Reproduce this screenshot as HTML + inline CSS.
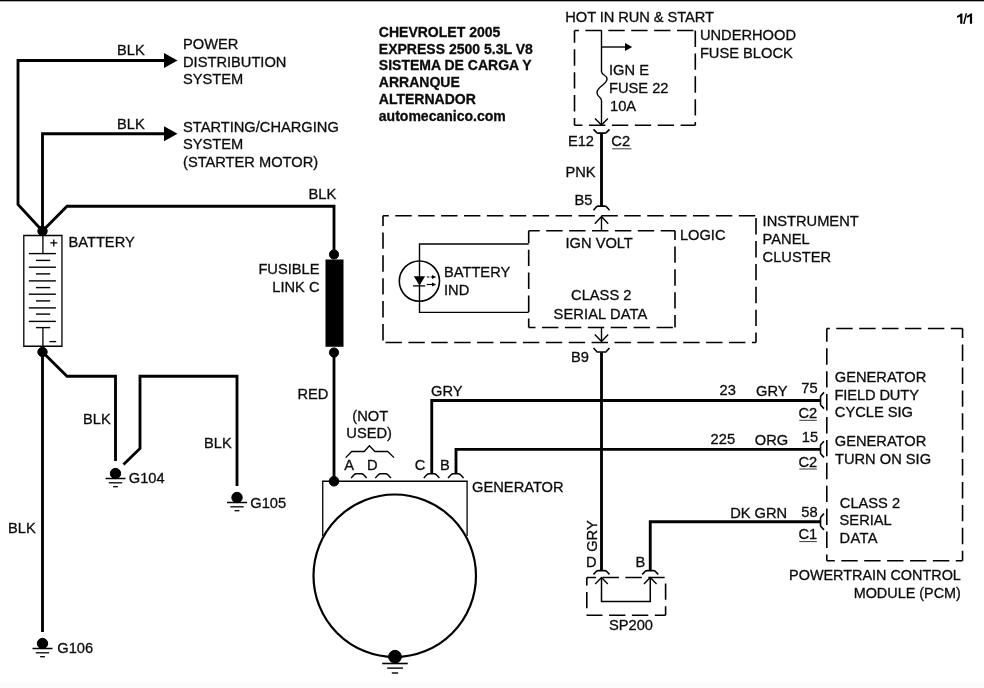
<!DOCTYPE html>
<html><head><meta charset="utf-8"><title>Wiring Diagram</title>
<style>
html,body{margin:0;padding:0;background:#fff;}
body{width:984px;height:688px;overflow:hidden;font-family:"Liberation Sans",sans-serif;}
svg{display:block;position:absolute;left:0;top:0;filter:blur(0.45px);}
svg text{font-family:"Liberation Sans",sans-serif;font-size:14.67px;fill:#0c0c0c;stroke:#0c0c0c;stroke-width:0.3px;}
svg path{fill:none;stroke:#000;stroke-linejoin:miter;stroke-linecap:butt;}
svg circle{stroke:#000;}
</style></head><body>
<svg width="984" height="688" viewBox="0 0 984 688">
<rect x="0" y="0" width="984" height="1.3" fill="#000" stroke="none"/>
<rect x="0" y="683" width="984" height="5" fill="#fbfbfb" stroke="none"/>
<path d="M165,60.5 H18 V204.5 L42.5,231" stroke-width="2.85"/>
<polygon points="164,53 177.5,60.5 164,68" fill="#000" stroke="none"/>
<path d="M165,133.7 H42.5 V231" stroke-width="2.85"/>
<polygon points="164,126.2 177.5,133.7 164,141.2" fill="#000" stroke="none"/>
<path d="M42.5,231 L67,206.2 H334 V254" stroke-width="2.85"/>
<circle cx="42.5" cy="231" r="4.7" fill="#000" stroke="none"/>
<path d="M23.8,235.5 H61.95 V346.25 H23.8 Z" stroke-width="1.3"/>
<path d="M42.9,235.5 V253.6" stroke-width="1.3"/>
<path d="M28.8,253.6 H55.9" stroke-width="1.4"/>
<path d="M28.8,267.2 H55.9" stroke-width="1.4"/>
<path d="M28.8,280.9 H55.9" stroke-width="1.4"/>
<path d="M28.8,294.2 H55.9" stroke-width="1.4"/>
<path d="M28.8,307.9 H55.9" stroke-width="1.4"/>
<path d="M28.8,321.4 H55.9" stroke-width="1.4"/>
<path d="M36,260.4 H50.2" stroke-width="1.4"/>
<path d="M36,273.9 H50.2" stroke-width="1.4"/>
<path d="M36,287.6 H50.2" stroke-width="1.4"/>
<path d="M36,300.9 H50.2" stroke-width="1.4"/>
<path d="M36,314.1 H50.2" stroke-width="1.4"/>
<path d="M36,327.6 H50.2" stroke-width="1.4"/>
<path d="M42.9,327.6 V346.25" stroke-width="1.3"/>
<path d="M50.3,242.9 H57.3 M53.8,239.4 V246.4" stroke-width="1.3"/>
<path d="M49.4,341.6 H56.2" stroke-width="1.3"/>
<circle cx="42.5" cy="352" r="4.7" fill="#000" stroke="none"/>
<path d="M42.5,352 V632" stroke-width="2.85"/>
<path d="M42.5,352 L67,376.25 H115.5 V461" stroke-width="2.85"/>
<path d="M237,486 V376.25 H140 V448.5 L123.5,464.5" stroke-width="2.85"/>
<circle cx="115.5" cy="473.5" r="5.2" fill="#000" stroke="none"/>
<path d="M105.50,478.5 H125.50" stroke-width="1.5"/>
<path d="M108.80,482.8 H122.20" stroke-width="1.3"/>
<path d="M113.10,486.7 H117.90" stroke-width="1.3"/>
<circle cx="237" cy="497.5" r="5.2" fill="#000" stroke="none"/>
<path d="M227.00,502.5 H247.00" stroke-width="1.5"/>
<path d="M230.30,506.8 H243.70" stroke-width="1.3"/>
<path d="M234.60,510.7 H239.40" stroke-width="1.3"/>
<circle cx="42.5" cy="643.5" r="5.2" fill="#000" stroke="none"/>
<path d="M32.50,648.5 H52.50" stroke-width="1.5"/>
<path d="M35.80,652.8 H49.20" stroke-width="1.3"/>
<path d="M40.10,656.7 H44.90" stroke-width="1.3"/>
<rect x="325.5" y="259.5" width="18" height="87.25" fill="#000" stroke="none"/>
<circle cx="334" cy="254.5" r="4.6" fill="#000" stroke="none"/>
<circle cx="334" cy="352.5" r="4.6" fill="#000" stroke="none"/>
<path d="M334,352.5 V481" stroke-width="2.85"/>
<path d="M322.75,536 V481.25 H467.1 V536" stroke-width="1.3"/>
<circle cx="394.75" cy="575.75" r="81.25" stroke-width="2.2" fill="none"/>
<circle cx="334" cy="481.25" r="4.8" fill="#000" stroke="none"/>
<circle cx="395" cy="656.75" r="6.4" fill="#000" stroke="none"/>
<path d="M382.2,663.5 H407.8" stroke-width="1.6"/>
<path d="M387.2,668.1 H403" stroke-width="1.4"/>
<path d="M391.8,673 H398.2" stroke-width="1.4"/>
<path d="M351.09999999999997,478 L354.6,474.30 Q355.2,473.8 356.3,473.8 H361.49999999999994 Q362.59999999999997,473.8 363.19999999999993,474.30 L366.7,478" stroke-width="1.5" stroke-linejoin="round"/>
<path d="M375.3,478 L378.80000000000007,474.30 Q379.40000000000003,473.8 380.50000000000006,473.8 H385.7 Q386.8,473.8 387.4,474.30 L390.90000000000003,478" stroke-width="1.5" stroke-linejoin="round"/>
<path d="M423.8,478 L427.30000000000007,474.30 Q427.90000000000003,473.8 429.00000000000006,473.8 H434.2 Q435.3,473.8 435.9,474.30 L439.40000000000003,478" stroke-width="1.5" stroke-linejoin="round"/>
<path d="M448.0,478 L451.50000000000006,474.30 Q452.1,473.8 453.20000000000005,473.8 H458.4 Q459.5,473.8 460.09999999999997,474.30 L463.6,478" stroke-width="1.5" stroke-linejoin="round"/>
<path d="M345.7,457.6 L351.7,451.5 H364.2 L369.4,445.8 L374.9,451.5 H387.7 L394,457.6" stroke-width="1.3"/>
<path d="M431.75,473.6 V400.5 H820.6" stroke-width="2.85"/>
<path d="M456,473.6 V449.3 H820.6" stroke-width="2.85"/>
<path d="M601.5,352.3 V570.5" stroke-width="2.85"/>
<path d="M650.25,570.5 V521.75 H820.6" stroke-width="2.85"/>
<path d="M601.5,133.4 V206.2" stroke-width="2.85"/>
<path d="M574.5,30.5 L695.3,30.5" stroke-width="1.6" stroke-dasharray="16.4 6.5" stroke-dashoffset="12.00"/>
<path d="M695.3,30.5 L695.3,125.2" stroke-width="1.6" stroke-dasharray="16.4 6.5" stroke-dashoffset="0.00"/>
<path d="M574.5,125.2 L695.3,125.2" stroke-width="1.6" stroke-dasharray="16.4 6.5" stroke-dashoffset="8.40"/>
<path d="M574.5,30.5 L574.5,125.2" stroke-width="1.6" stroke-dasharray="16.4 6.5" stroke-dashoffset="4.10"/>
<path d="M601.5,30.5 V71.5 C601.5,75.5 607,74.5 607,79 C607,84.5 597,86.5 597,92.5 C597,97.5 601.5,96.5 601.5,100.5 V125" stroke-width="1.4"/>
<path d="M601.5,47 H626" stroke-width="1.4"/>
<polygon points="625,43 632.2,47 625,51" fill="#000" stroke="none"/>
<path d="M595,118.4 L601.5,124.9 L607.9,118.4" stroke-width="1.4"/>
<path d="M593.5,129.4 L596.7,132.66 Q597.3000000000001,133.1 598.4,133.1 H604.6 Q605.6999999999999,133.1 606.3,132.66 L609.5,129.4" stroke-width="1.6" stroke-linejoin="round"/>
<path d="M383,215.75 L756,215.75" stroke-width="1.6" stroke-dasharray="16.4 6.5" stroke-dashoffset="10.60"/>
<path d="M756,215.75 L756,342.5" stroke-width="1.6" stroke-dasharray="16.4 6.5" stroke-dashoffset="20.55"/>
<path d="M383,342.5 L756,342.5" stroke-width="1.6" stroke-dasharray="16.4 6.5" stroke-dashoffset="20.40"/>
<path d="M383,215.75 L383,342.5" stroke-width="1.6" stroke-dasharray="16.4 6.5" stroke-dashoffset="6.25"/>
<path d="M528.7,230.75 L675,230.75" stroke-width="1.6" stroke-dasharray="16.4 6.5" stroke-dashoffset="5.40"/>
<path d="M675,230.75 L675,327.5" stroke-width="1.6" stroke-dasharray="16.4 6.5" stroke-dashoffset="7.25"/>
<path d="M528.7,327.5 L675,327.5" stroke-width="1.6" stroke-dasharray="16.4 6.5" stroke-dashoffset="9.60"/>
<path d="M528.7,230.75 L528.7,327.5" stroke-width="1.6" stroke-dasharray="16.4 6.5" stroke-dashoffset="3.95"/>
<path d="M593.5,210.2 L596.7,206.59 Q597.3000000000001,206.1 598.4,206.1 H604.6 Q605.6999999999999,206.1 606.3,206.59 L609.5,210.2" stroke-width="1.6" stroke-linejoin="round"/>
<path d="M601.5,230.5 V216.6 M594.8,223.8 L601.5,216.6 L608.2,223.8" stroke-width="1.4"/>
<path d="M601.5,327.5 V341.6 M594.8,334.6 L601.5,341.6 L608.2,334.6" stroke-width="1.4"/>
<path d="M593.5,348 L596.7,351.52 Q597.3000000000001,352 598.4,352 H604.6 Q605.6999999999999,352 606.3,351.52 L609.5,348" stroke-width="1.6" stroke-linejoin="round"/>
<path d="M528.7,244 H419.5 V312.4 H528.7" stroke-width="1.4"/>
<circle cx="419.4" cy="281.1" r="20.1" stroke-width="1.6" fill="none"/>
<polygon points="413.8,276.2 425.1,276.2 419.5,285.6" fill="#000" stroke="none"/>
<path d="M413,285.9 H425.2" stroke-width="1.3"/>
<path d="M426.8,277 H433" stroke-width="1.2" stroke-dasharray="2.6 1.2"/>
<path d="M426.8,284.5 H433" stroke-width="1.2"/>
<polygon points="432,275 436.2,277 432,279" fill="#000" stroke="none"/>
<polygon points="432,282.5 436.2,284.5 432,286.5" fill="#000" stroke="none"/>
<path d="M826.8,328.55 L962.55,328.55" stroke-width="1.6" stroke-dasharray="16.4 6.5" stroke-dashoffset="13.40"/>
<path d="M962.55,328.55 L962.55,560.8" stroke-width="1.6" stroke-dasharray="16.4 6.5" stroke-dashoffset="6.85"/>
<path d="M826.8,560.8 L962.55,560.8" stroke-width="1.6" stroke-dasharray="16.4 6.5" stroke-dashoffset="8.40"/>
<path d="M826.8,328.55 L826.8,560.8" stroke-width="1.6" stroke-dasharray="16.4 6.5" stroke-dashoffset="3.15"/>
<path d="M824,392.4 L820.92,395.70000000000005 Q820.5,396.3 820.5,397.40000000000003 V403.59999999999997 Q820.5,404.7 820.92,405.29999999999995 L824,408.6" stroke-width="1.6" stroke-linejoin="round"/>
<path d="M824,441.2 L820.92,444.50000000000006 Q820.5,445.1 820.5,446.20000000000005 V452.4 Q820.5,453.5 820.92,454.09999999999997 L824,457.40000000000003" stroke-width="1.6" stroke-linejoin="round"/>
<path d="M824,513.65 L820.92,516.95 Q820.5,517.5500000000001 820.5,518.65 V524.85 Q820.5,525.9499999999999 820.92,526.55 L824,529.85" stroke-width="1.6" stroke-linejoin="round"/>
<path d="M586.8,577.5 L665.6,577.5" stroke-width="1.6" stroke-dasharray="16.4 6.5" stroke-dashoffset="7.20"/>
<path d="M665.6,577.5 L665.6,615.2" stroke-width="1.6" stroke-dasharray="16.4 6.5" stroke-dashoffset="17.00"/>
<path d="M586.8,615.2 L665.6,615.2" stroke-width="1.6" stroke-dasharray="16.4 6.5" stroke-dashoffset="0.70"/>
<path d="M586.8,577.5 L586.8,615.2" stroke-width="1.6" stroke-dasharray="16.4 6.5" stroke-dashoffset="8.50"/>
<path d="M593.5,574.4 L596.7,571.06 Q597.3000000000001,570.6 598.4,570.6 H604.6 Q605.6999999999999,570.6 606.3,571.06 L609.5,574.4" stroke-width="1.6" stroke-linejoin="round"/>
<path d="M642.25,574.4 L645.45,571.06 Q646.0500000000001,570.6 647.15,570.6 H653.35 Q654.4499999999999,570.6 655.05,571.06 L658.25,574.4" stroke-width="1.6" stroke-linejoin="round"/>
<path d="M601.5,577.5 V601.4 H650.25 V577.5" stroke-width="1.5"/>
<path d="M595.2,583.9 L601.5,577.6 L607.8,583.9" stroke-width="1.4"/>
<path d="M643.95,583.9 L650.25,577.6 L656.55,583.9" stroke-width="1.4"/>
<text x="117.0" y="54.65">BLK</text>
<text x="183.0" y="48.65">POWER</text>
<text x="183.0" y="66.65">DISTRIBUTION</text>
<text x="183.0" y="84.15">SYSTEM</text>
<text x="117.0" y="128.85">BLK</text>
<text x="183.0" y="131.65">STARTING/CHARGING</text>
<text x="183.0" y="149.15">SYSTEM</text>
<text x="183.0" y="166.65">(STARTER MOTOR)</text>
<text x="308.6" y="198.65">BLK</text>
<text x="68.5" y="246.9">BATTERY</text>
<text x="319.5" y="273.65" text-anchor="end">FUSIBLE</text>
<text x="319.5" y="291.65" text-anchor="end">LINK C</text>
<text x="297.5" y="398.9">RED</text>
<text x="83.0" y="423.9">BLK</text>
<text x="204.1" y="447.9">BLK</text>
<text x="128.8" y="483.4">G104</text>
<text x="250.3" y="508.4">G105</text>
<text x="8.0" y="533.4">BLK</text>
<text x="57.3" y="653.15">G106</text>
<text x="352.3" y="420.9">(NOT</text>
<text x="346.3" y="438.4">USED)</text>
<text x="344.3" y="469.65">A</text>
<text x="367.1" y="469.65">D</text>
<text x="414.8" y="469.65">C</text>
<text x="440.1" y="469.65">B</text>
<text x="431.1" y="395.9">GRY</text>
<text x="472.1" y="491.65">GENERATOR</text>
<text x="444.0" y="277.4">BATTERY</text>
<text x="444.0" y="294.65">IND</text>
<text x="565.3" y="21.65" letter-spacing="-0.07">HOT IN RUN &amp; START</text>
<text x="699.9" y="40.15">UNDERHOOD</text>
<text x="699.9" y="57.65">FUSE BLOCK</text>
<text x="609.0" y="75.4">IGN E</text>
<text x="609.0" y="93.4">FUSE 22</text>
<text x="610.0" y="111.4">10A</text>
<text x="567.9" y="146.4">E12</text>
<text x="611.3" y="146.15">C2</text>
<path d="M612,148.8 H631.5" stroke-width="1" style="stroke:#3a3a3a"/>
<text x="565.5" y="177.15">PNK</text>
<text x="574.5" y="205.4">B5</text>
<text x="565.5" y="247.9">IGN VOLT</text>
<text x="679.9" y="240.4">LOGIC</text>
<text x="762.6" y="225.9">INSTRUMENT</text>
<text x="762.6" y="243.65">PANEL</text>
<text x="762.6" y="261.65">CLUSTER</text>
<text x="571.1" y="300.4">CLASS 2</text>
<text x="553.6" y="318.9" letter-spacing="0.1">SERIAL DATA</text>
<text x="571.1" y="362.15">B9</text>
<text x="719.6" y="395.4">23</text>
<text x="756.1" y="396.4">GRY</text>
<text x="801.3" y="393.15">75</text>
<text x="798.5" y="417.55">C2</text>
<path d="M799.3,420.3 H816.8" stroke-width="1" style="stroke:#3a3a3a"/>
<text x="710.6" y="443.9">225</text>
<text x="754.8" y="445.15">ORG</text>
<text x="801.8" y="442.15">15</text>
<text x="798.5" y="466.65">C2</text>
<path d="M799.3,469 H816.8" stroke-width="1" style="stroke:#3a3a3a"/>
<text x="787.2" y="517.9" text-anchor="end">DK GRN</text>
<text x="801.3" y="517.15">58</text>
<text x="798.5" y="539.15">C1</text>
<path d="M799.3,541.6 H816.8" stroke-width="1" style="stroke:#3a3a3a"/>
<text x="834.8" y="382.15">GENERATOR</text>
<text x="834.5" y="399.65" letter-spacing="-0.12">FIELD DUTY</text>
<text x="834.8" y="417.15">CYCLE SIG</text>
<text x="834.8" y="446.4">GENERATOR</text>
<text x="835.0" y="463.9">TURN ON SIG</text>
<text x="839.8" y="507.65">CLASS 2</text>
<text x="839.6" y="525.4">SERIAL</text>
<text x="839.6" y="542.9" letter-spacing="0.35">DATA</text>
<text x="960.9" y="580.4" text-anchor="end" style="font-size:14.42px">POWERTRAIN CONTROL</text>
<text x="960.9" y="597.65" text-anchor="end" style="font-size:14.42px">MODULE (PCM)</text>
<text transform="translate(596.8,551.8) rotate(-90)" x="0" y="0">GRY</text>
<text x="585.9" y="567.45">D</text>
<text x="635.5" y="567.45">B</text>
<text x="609.0" y="629.75">SP200</text>
<text x="378.8" y="36.65" style="font-size:14.03px" font-weight="bold">CHEVROLET 2005</text>
<text x="378.8" y="53.65" style="font-size:14.03px" font-weight="bold">EXPRESS 2500 5.3L V8</text>
<text x="378.8" y="70.4" style="font-size:14.03px" font-weight="bold">SISTEMA DE CARGA Y</text>
<text x="378.8" y="87.15" style="font-size:14.03px" font-weight="bold">ARRANQUE</text>
<text x="378.8" y="104.15" style="font-size:14.03px" font-weight="bold">ALTERNADOR</text>
<text x="378.8" y="120.9" style="font-size:14.03px" font-weight="bold">automecanico.com</text>
<path d="M957,17.7 V15.9 Q959.6,15 960.8,13.5 H962.4 V23.8 H960.2 V16.4 Q958.9,17.3 957,17.7 Z" style="fill:#000;stroke:none"/>
<path d="M966.7,17.7 V15.9 Q969.3000000000001,15 970.5,13.5 H972.1 V23.8 H969.9000000000001 V16.4 Q968.6,17.3 966.7,17.7 Z" style="fill:#000;stroke:none"/>
<polygon points="963.1,23.95 964.6,23.95 967.1,13.35 965.6,13.35" fill="#000" stroke="none"/>
</svg>
</body></html>
